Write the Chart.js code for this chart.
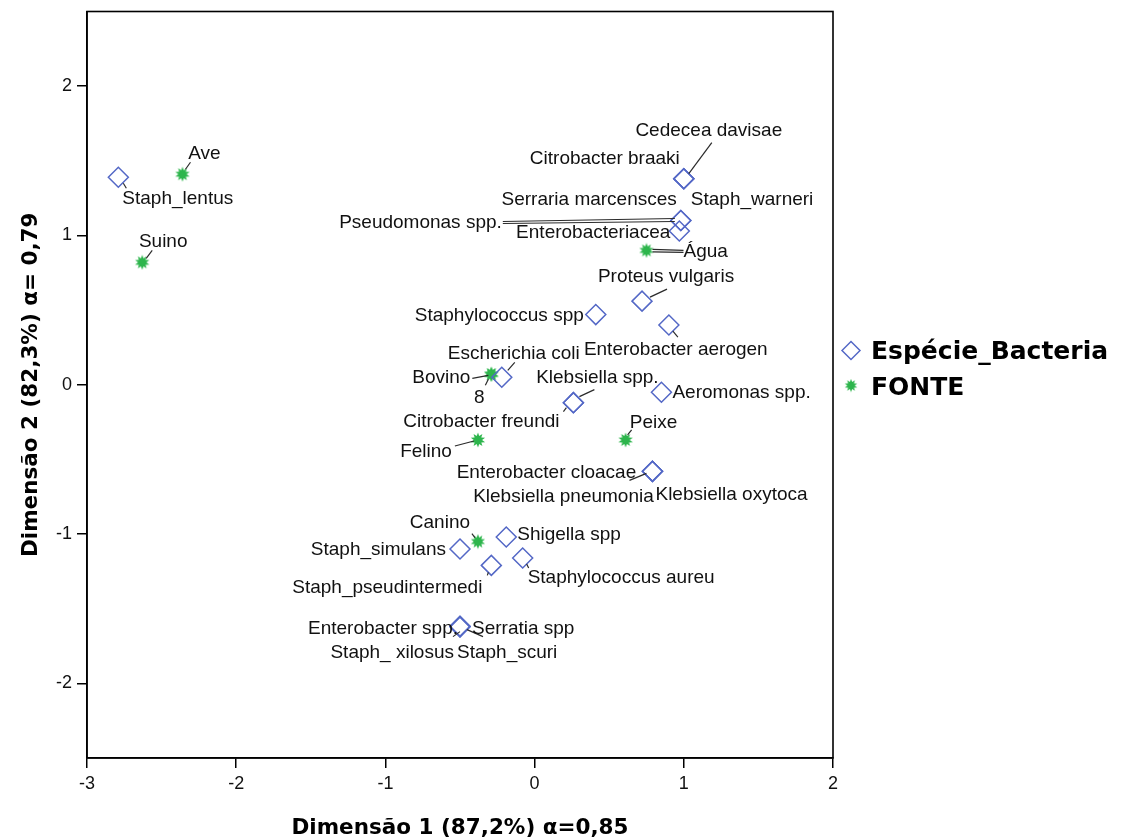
<!DOCTYPE html>
<html>
<head>
<meta charset="utf-8">
<script src="https://cdn.jsdelivr.net/npm/chart.js@4.4.1/dist/chart.umd.min.js"></script>
<style>
  html, body { margin: 0; padding: 0; background: #ffffff; }
  #wrap { width: 1127px; height: 840px; }
</style>
</head>
<body>
<div id="wrap"><canvas id="c" width="1127" height="840"></canvas></div>
<script>
// ---------- DATA ----------
const bacteriaNames = [
  "Staph_lentus", "Cedecea davisae", "Citrobacter braaki", "Staph_warneri",
  "Serraria marcensces", "Pseudomonas spp.", "Enterobacteriacea", "Proteus vulgaris",
  "Staphylococcus spp", "Enterobacter aerogen", "Escherichia coli", "Klebsiella spp.",
  "Citrobacter freundi", "Aeromonas spp.", "Enterobacter cloacae", "Klebsiella pneumonia",
  "Klebsiella oxytoca", "Shigella spp", "Staph_simulans", "Staph_pseudintermedi",
  "Staphylococcus aureu", "Enterobacter spp.", "Serratia spp", "Staph_ xilosus", "Staph_scuri"
];
const bacteriaX = [
  -2.79, 1.00, 1.00, 1.00,
  0.98, 0.98, 0.97, 0.72,
  0.41, 0.90, -0.22, 0.26,
  0.26, 0.85, 0.79, 0.79,
  0.79, -0.19, -0.50, -0.29,
  -0.08, -0.50, -0.50, -0.50, -0.50
];
const bacteriaY = [
  1.39, 1.38, 1.38, 1.38,
  1.10, 1.10, 1.03, 0.56,
  0.47, 0.40, 0.05, -0.12,
  -0.12, -0.05, -0.58, -0.58,
  -0.58, -1.02, -1.10, -1.21,
  -1.16, -1.62, -1.62, -1.62, -1.62
];
const fonteNames = ["Ave", "Suino", "Água", "Bovino", "8", "Felino", "Peixe", "Canino"];
const fonteX = [-2.36, -2.63, 0.75, -0.29, -0.29, -0.38, 0.61, -0.38];
const fonteY = [1.41, 0.82, 0.90, 0.07, 0.07, -0.37, -0.37, -1.05];

const xTicks = [-3, -2, -1, 0, 1, 2];
const yTicks = [-2, -1, 0, 1, 2];
const seriesNames = ["Espécie_Bacteria", "FONTE"];
const xTitle = "Dimensão 1 (87,2%) α=0,85";
const yTitle = "Dimensão 2 (82,3%) α= 0,79";

// ---------- LABEL LAYOUT (pixel offsets of the text from its point) ----------
const labelLayout = {
  "Staph_lentus":        {dx: 4,    dy: 22,  align: "left",   lines: [[5,6,8,11]]},
  "Cedecea davisae":     {dx: 25,   dy: -48, align: "center", lines: [[5,-5,28,-36]]},
  "Citrobacter braaki":  {dx: -4,   dy: -20, align: "right",  lines: []},
  "Staph_warneri":       {dx: 7,    dy: 21,  align: "left",   lines: []},
  "Serraria marcensces": {dx: -4,   dy: -21, align: "right",  lines: []},
  "Pseudomonas spp.":    {dx: -179, dy: 2,   align: "right",  lines: [[-178,1,-6,-2],[-178,3,-6,1]]},
  "Enterobacteriacea":   {dx: -9,   dy: 2,   align: "right",  lines: []},
  "Proteus vulgaris":    {dx: 24,   dy: -24, align: "center", lines: [[8,-4,25,-12]]},
  "Staphylococcus spp":  {dx: -12,  dy: 1,   align: "right",  lines: []},
  "Enterobacter aerogen":{dx: -85,  dy: 25,  align: "left",   lines: [[4,6,9,12]]},
  "Escherichia coli":    {dx: 12,   dy: -24, align: "center", lines: [[6,-7,13,-15]]},
  "Klebsiella spp.":     {dx: 24,   dy: -25, align: "center", lines: [[6,-6,21,-13]]},
  "Citrobacter freundi": {dx: -92,  dy: 19,  align: "center", lines: [[-7,5,-10,9]]},
  "Aeromonas spp.":      {dx: 11,   dy: 1,   align: "left",   lines: []},
  "Enterobacter cloacae":{dx: -106, dy: 1,   align: "center", lines: [[-23,9,-6,2]]},
  "Klebsiella pneumonia":{dx: -89,  dy: 25,  align: "center", lines: []},
  "Klebsiella oxytoca":  {dx: 3,    dy: 23,  align: "left",   lines: []},
  "Shigella spp":        {dx: 11,   dy: -2,  align: "left",   lines: []},
  "Staph_simulans":      {dx: -14,  dy: 1,   align: "right",  lines: []},
  "Staph_pseudintermedi":{dx: -104, dy: 22,  align: "center", lines: [[-3,7,-4,10]]},
  "Staphylococcus aureu":{dx: 5,    dy: 20,  align: "left",   lines: [[4,6,6,10]]},
  "Enterobacter spp.":   {dx: -2,   dy: 2,   align: "right",  lines: []},
  "Serratia spp":        {dx: 12,   dy: 2,   align: "left",   lines: [[7,3,23,10]]},
  "Staph_ xilosus":      {dx: -6,   dy: 26,  align: "right",  lines: [[-7,10,0,5]]},
  "Staph_scuri":         {dx: -3,   dy: 26,  align: "left",   lines: []},
  "Ave":                 {dx: 22,   dy: -20, align: "center", lines: [[3,-5,8,-12]]},
  "Suino":               {dx: 21,   dy: -21, align: "center", lines: [[4,-4,10,-12]]},
  "Água":                {dx: 37,   dy: 1,   align: "left",   lines: [[6,-1,37,0],[6,1.5,37,2]]},
  "Bovino":              {dx: -21,  dy: 3,   align: "right",  lines: [[-19,4,-3,1]]},
  "8":                   {dx: -12,  dy: 23,  align: "center", lines: [[-3,5,-6,11]]},
  "Felino":              {dx: -26,  dy: 12,  align: "right",  lines: [[-23,6,-4,1]]},
  "Peixe":               {dx: 28,   dy: -17, align: "center", lines: [[2,-5,6,-10]]},
  "Canino":              {dx: -38,  dy: -19, align: "center", lines: [[-6,-8,-3,-4]]}
};

// ---------- STYLE ----------
const blue = "#5468c6";
const green = "#2db54c";
const labelFont = '19px "Liberation Sans", Arial, sans-serif';
const boldFamily = '"DejaVu Sans", "Liberation Sans", sans-serif';

function makeStar(size) {
  const cv = document.createElement("canvas");
  cv.width = size; cv.height = size;
  const g = cv.getContext("2d");
  const c = size / 2, ro = size / 2 - 0.5, ri = ro * 0.55, n = 10;
  g.beginPath();
  for (let i = 0; i < n * 2; i++) {
    const r = i % 2 === 0 ? ro : ri;
    const a = -Math.PI / 2 + i * Math.PI / n;
    const px = c + r * Math.cos(a), py = c + r * Math.sin(a);
    if (i === 0) g.moveTo(px, py); else g.lineTo(px, py);
  }
  g.closePath();
  g.fillStyle = green;
  g.fill();
  return cv;
}
const starImg = makeStar(16);

const labelPlugin = {
  id: "pointLabels",
  afterDatasetsDraw(chart) {
    const ctx = chart.ctx;
    ctx.save();
    chart.data.datasets.forEach((ds, di) => {
      const meta = chart.getDatasetMeta(di);
      meta.data.forEach((el, i) => {
        const name = ds.data[i].label;
        const L = labelLayout[name] || {dx: 8, dy: -12, align: "left", lines: []};
        ctx.strokeStyle = "#2a2a2a";
        ctx.lineWidth = 1.2;
        L.lines.forEach(l => {
          ctx.beginPath();
          ctx.moveTo(el.x + l[0], el.y + l[1]);
          ctx.lineTo(el.x + l[2], el.y + l[3]);
          ctx.stroke();
        });
        ctx.fillStyle = "#111111";
        ctx.font = labelFont;
        ctx.textAlign = L.align;
        ctx.textBaseline = "middle";
        ctx.fillText(name, el.x + L.dx, el.y + L.dy);
      });
    });
    ctx.restore();
  },
  afterDraw(chart) {
    const ctx = chart.ctx;
    const a = chart.chartArea;
    ctx.save();
    // frame
    ctx.strokeStyle = "#000000";
    ctx.lineWidth = 1.6;
    ctx.strokeRect(a.left, a.top, a.right - a.left, a.bottom - a.top);
    // legend
    const lx = a.right + 18;
    const y1 = a.top + 339, y2 = a.top + 375;
    ctx.strokeStyle = blue;
    ctx.lineWidth = 1.5;
    ctx.beginPath();
    ctx.moveTo(lx - 9, y1); ctx.lineTo(lx, y1 - 9); ctx.lineTo(lx + 9, y1); ctx.lineTo(lx, y1 + 9);
    ctx.closePath();
    ctx.stroke();
    ctx.drawImage(starImg, lx - 7, y2 - 8, 14, 14);
    ctx.fillStyle = "#000000";
    ctx.font = "bold 25px " + boldFamily;
    ctx.textAlign = "left";
    ctx.textBaseline = "middle";
    ctx.fillText(seriesNames[0], lx + 20, y1 + 2);
    ctx.fillText(seriesNames[1], lx + 20, y2 + 2);
    ctx.restore();
  }
};

const toPoints = (names, xs, ys) => names.map((n, i) => ({x: xs[i], y: ys[i], label: n}));

new Chart(document.getElementById("c"), {
  type: "scatter",
  data: {
    datasets: [
      {
        label: seriesNames[0],
        data: toPoints(bacteriaNames, bacteriaX, bacteriaY),
        pointStyle: "rectRot",
        pointRadius: 10,
        pointHoverRadius: 10,
        borderColor: blue,
        backgroundColor: "rgba(255,255,255,0)",
        borderWidth: 1.5
      },
      {
        label: seriesNames[1],
        data: toPoints(fonteNames, fonteX, fonteY),
        pointStyle: starImg,
        pointRadius: 8,
        borderColor: green,
        backgroundColor: green
      }
    ]
  },
  options: {
    responsive: false,
    animation: false,
    events: [],
    layout: { padding: { left: 0, right: 294, top: 11, bottom: 0 } },
    plugins: { legend: { display: false }, tooltip: { enabled: false } },
    scales: {
      x: {
        type: "linear",
        min: xTicks[0],
        max: xTicks[xTicks.length - 1],
        afterBuildTicks: s => { s.ticks = xTicks.map(v => ({value: v})); },
        afterFit: s => { s.height = 82; s.paddingLeft = 0; s.paddingRight = 0; },
        grid: { drawOnChartArea: false, drawTicks: true, tickLength: 10, color: "#000", lineWidth: 1.5 },
        border: { display: true, color: "#000", width: 1.6 },
        ticks: { color: "#111", font: { family: '"Liberation Sans", Arial, sans-serif', size: 18 }, padding: 5 },
        title: { display: true, text: xTitle, color: "#000", font: { family: boldFamily, size: 21.5, weight: "bold" }, padding: { top: 0, bottom: -1 } }
      },
      y: {
        type: "linear",
        min: -2.5,
        max: 2.5,
        afterBuildTicks: s => { s.ticks = yTicks.map(v => ({value: v})); },
        afterFit: s => { s.width = 87; s.paddingTop = 0; s.paddingBottom = 0; },
        grid: { drawOnChartArea: false, drawTicks: true, tickLength: 10, color: "#000", lineWidth: 1.5 },
        border: { display: true, color: "#000", width: 1.6 },
        ticks: { color: "#111", font: { family: '"Liberation Sans", Arial, sans-serif', size: 18 }, padding: 5 },
        title: { display: true, text: yTitle, color: "#000", font: { family: boldFamily, size: 21.5, weight: "bold" }, padding: { top: 19, bottom: 0 } }
      }
    }
  },
  plugins: [labelPlugin]
});
</script>
</body>
</html>
